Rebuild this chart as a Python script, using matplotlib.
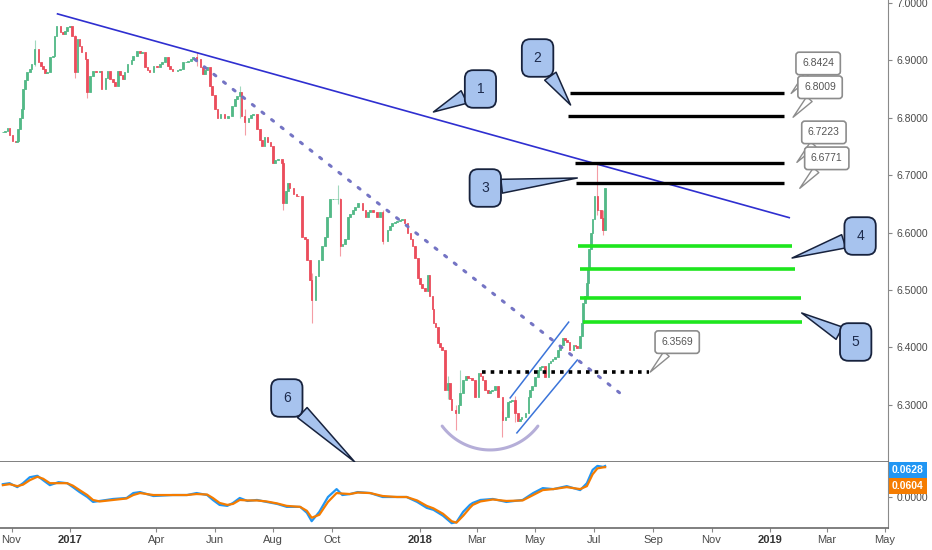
import matplotlib
matplotlib.use("Agg")
import matplotlib.pyplot as plt
import matplotlib.dates as mdates
import numpy as np
import pandas as pd

# daily-ish closes (USD/CNH)
dates = [
    "2016-10-23", "2016-10-25", "2016-10-28", "2016-10-30", "2016-11-02", "2016-11-05", "2016-11-07", "2016-11-08",
    "2016-11-10", "2016-11-12", "2016-11-13", "2016-11-15", "2016-11-17", "2016-11-20", "2016-11-22", "2016-11-25",
    "2016-11-29", "2016-12-02", "2016-12-04", "2016-12-06", "2016-12-08", "2016-12-11", "2016-12-14", "2016-12-16",
    "2016-12-18", "2016-12-22", "2016-12-25", "2016-12-27", "2016-12-29", "2017-01-01", "2017-01-03", "2017-01-06",
    "2017-01-09", "2017-01-11", "2017-01-13", "2017-01-17", "2017-01-19", "2017-01-22", "2017-01-25", "2017-01-28",
    "2017-02-01", "2017-02-03", "2017-02-07", "2017-02-09", "2017-02-12", "2017-02-15", "2017-02-17", "2017-02-20",
    "2017-02-22", "2017-02-25", "2017-02-27", "2017-03-02", "2017-03-06", "2017-03-08", "2017-03-12", "2017-03-15",
    "2017-03-17", "2017-03-20", "2017-03-23", "2017-03-25", "2017-03-29", "2017-04-02", "2017-04-05", "2017-04-07",
    "2017-04-10", "2017-04-13", "2017-04-15", "2017-04-18", "2017-04-23", "2017-04-26", "2017-04-29", "2017-05-02",
    "2017-05-04", "2017-05-07", "2017-05-09", "2017-05-13", "2017-05-17", "2017-05-20", "2017-05-22", "2017-05-24",
    "2017-05-27", "2017-05-29", "2017-06-01", "2017-06-04", "2017-06-07", "2017-06-11", "2017-06-15", "2017-06-19",
    "2017-06-22", "2017-06-24", "2017-06-27", "2017-06-29", "2017-07-02", "2017-07-06", "2017-07-09", "2017-07-11",
    "2017-07-15", "2017-07-18", "2017-07-20", "2017-07-23", "2017-07-26", "2017-07-29", "2017-08-01", "2017-08-03",
    "2017-08-06", "2017-08-10", "2017-08-11", "2017-08-14", "2017-08-16", "2017-08-18", "2017-08-22", "2017-08-25",
    "2017-08-27", "2017-08-31", "2017-09-03", "2017-09-05", "2017-09-08", "2017-09-10", "2017-09-14", "2017-09-17",
    "2017-09-21", "2017-09-24", "2017-09-26", "2017-09-29", "2017-10-02", "2017-10-05", "2017-10-07", "2017-10-10",
    "2017-10-12", "2017-10-15", "2017-10-18", "2017-10-20", "2017-10-23", "2017-10-25", "2017-10-28", "2017-11-02",
    "2017-11-05", "2017-11-08", "2017-11-10", "2017-11-13", "2017-11-17", "2017-11-20", "2017-11-23", "2017-11-28",
    "2017-12-01", "2017-12-03", "2017-12-06", "2017-12-08", "2017-12-11", "2017-12-13", "2017-12-16", "2017-12-19",
    "2017-12-22", "2017-12-24", "2017-12-27", "2017-12-30", "2018-01-01", "2018-01-03", "2018-01-06", "2018-01-09",
    "2018-01-11", "2018-01-14", "2018-01-15", "2018-01-17", "2018-01-20", "2018-01-22", "2018-01-24", "2018-01-27",
    "2018-01-30", "2018-02-01", "2018-02-03", "2018-02-07", "2018-02-10", "2018-02-12", "2018-02-15", "2018-02-18",
    "2018-02-20", "2018-02-22", "2018-02-24", "2018-02-27", "2018-03-03", "2018-03-05", "2018-03-07", "2018-03-10",
    "2018-03-13", "2018-03-15", "2018-03-17", "2018-03-20", "2018-03-23", "2018-03-28", "2018-03-31", "2018-04-03",
    "2018-04-05", "2018-04-07", "2018-04-10", "2018-04-13", "2018-04-15", "2018-04-17", "2018-04-21", "2018-04-24",
    "2018-04-26", "2018-04-28", "2018-05-01", "2018-05-04", "2018-05-06", "2018-05-08", "2018-05-11", "2018-05-15",
    "2018-05-17", "2018-05-19", "2018-05-22", "2018-05-25", "2018-05-27", "2018-05-30", "2018-06-01", "2018-06-03",
    "2018-06-06", "2018-06-10", "2018-06-12", "2018-06-14", "2018-06-17", "2018-06-19", "2018-06-20", "2018-06-22",
    "2018-06-24", "2018-06-25", "2018-06-26", "2018-06-28", "2018-06-30", "2018-07-02", "2018-07-05", "2018-07-07",
    "2018-07-09", "2018-07-11", "2018-07-13",
]
closes = [
    6.775, 6.777, 6.783, 6.770, 6.760, 6.758, 6.760, 6.780,
    6.800, 6.815, 6.850, 6.865, 6.880, 6.885, 6.893, 6.920,
    6.897, 6.890, 6.885, 6.878, 6.880, 6.906, 6.908, 6.943,
    6.960, 6.949, 6.946, 6.952, 6.958, 6.960, 6.943, 6.880,
    6.937, 6.925, 6.914, 6.902, 6.845, 6.873, 6.881, 6.880,
    6.881, 6.850, 6.870, 6.881, 6.867, 6.862, 6.855, 6.881,
    6.875, 6.867, 6.880, 6.893, 6.900, 6.908, 6.916, 6.912,
    6.914, 6.888, 6.884, 6.880, 6.890, 6.888, 6.893, 6.897,
    6.906, 6.890, 6.885, 6.881, 6.884, 6.885, 6.897, 6.898,
    6.899, 6.903, 6.906, 6.902, 6.888, 6.876, 6.883, 6.888,
    6.855, 6.840, 6.815, 6.800, 6.806, 6.800, 6.803, 6.820,
    6.832, 6.838, 6.845, 6.803, 6.792, 6.800, 6.805, 6.806,
    6.780, 6.762, 6.750, 6.766, 6.758, 6.750, 6.722, 6.726,
    6.728, 6.722, 6.652, 6.672, 6.687, 6.678, 6.667, 6.664,
    6.663, 6.593, 6.588, 6.553, 6.518, 6.483, 6.524, 6.553,
    6.576, 6.593, 6.628, 6.658, 6.658, 6.658, 6.658, 6.576,
    6.580, 6.588, 6.628, 6.632, 6.640, 6.645, 6.652, 6.640,
    6.628, 6.636, 6.640, 6.635, 6.628, 6.635, 6.585, 6.605,
    6.612, 6.617, 6.619, 6.620, 6.622, 6.623, 6.617, 6.600,
    6.588, 6.576, 6.555, 6.520, 6.510, 6.503, 6.498, 6.526,
    6.489, 6.466, 6.443, 6.436, 6.408, 6.400, 6.396, 6.326,
    6.338, 6.310, 6.291, 6.286, 6.300, 6.321, 6.344, 6.350,
    6.347, 6.346, 6.344, 6.314, 6.356, 6.350, 6.344, 6.326,
    6.321, 6.324, 6.326, 6.332, 6.314, 6.274, 6.279, 6.304,
    6.306, 6.309, 6.286, 6.271, 6.275, 6.279, 6.286, 6.314,
    6.325, 6.332, 6.349, 6.361, 6.365, 6.367, 6.349, 6.373,
    6.376, 6.379, 6.384, 6.396, 6.405, 6.417, 6.413, 6.410,
    6.396, 6.405, 6.402, 6.399, 6.419, 6.443, 6.478, 6.489,
    6.513, 6.536, 6.571, 6.600, 6.623, 6.663, 6.640, 6.640,
    6.625, 6.605, 6.678,
]

# candles with a visible shadow
wick_dates = ["2016-11-25", "2017-01-06", "2017-01-19", "2017-05-13", "2017-06-27", "2017-07-02", "2017-08-11",
              "2017-09-10", "2017-10-07", "2017-10-10", "2017-11-23", "2018-01-30", "2018-02-07", "2018-02-12",
              "2018-03-28", "2018-04-10", "2018-07-05", "2018-07-11"]
wick_highs = [6.935, 6.945, 6.880, 6.915, 6.855, 6.815, 6.725, 6.530, 6.683, 6.660, 6.640, 6.350, 6.300, 6.360,
              6.290, 6.315, 6.7223, 6.640]
wick_lows = [6.890, 6.870, 6.835, 6.890, 6.800, 6.770, 6.640, 6.443, 6.650, 6.560, 6.580, 6.310, 6.256, 6.300,
             6.244, 6.270, 6.630, 6.595]

# lower pane oscillator (blue fast / orange slow)
ind_dates = [
    "2016-10-23", "2016-10-30", "2016-11-07", "2016-11-13", "2016-11-20", "2016-11-28", "2016-12-04", "2016-12-11",
    "2016-12-20", "2016-12-29", "2017-01-04", "2017-01-11", "2017-01-19", "2017-01-25", "2017-02-01", "2017-02-15",
    "2017-03-01", "2017-03-08", "2017-03-15", "2017-03-29", "2017-04-18", "2017-05-03", "2017-05-13", "2017-05-24",
    "2017-05-30", "2017-06-06", "2017-06-14", "2017-06-20", "2017-06-27", "2017-07-05", "2017-07-15", "2017-07-25",
    "2017-08-05", "2017-08-15", "2017-08-29", "2017-09-05", "2017-09-10", "2017-09-18", "2017-09-27", "2017-10-06",
    "2017-10-12", "2017-10-20", "2017-10-28", "2017-11-10", "2017-11-23", "2017-12-08", "2017-12-18", "2017-12-29",
    "2018-01-08", "2018-01-15", "2018-01-25", "2018-02-03", "2018-02-08", "2018-02-15", "2018-02-22", "2018-02-25",
    "2018-03-05", "2018-03-18", "2018-04-01", "2018-04-18", "2018-04-29", "2018-05-09", "2018-05-20", "2018-06-03",
    "2018-06-17", "2018-06-24", "2018-06-30", "2018-07-05", "2018-07-11", "2018-07-13",
]
ind_fast = [
    0.026, 0.028, 0.020, 0.028, 0.040, 0.043, 0.034, 0.024, 0.030, 0.028,
    0.020, 0.010, 0.000, -0.010, -0.008, -0.004, -0.002, 0.008, 0.010, 0.002,
    0.004, 0.004, 0.008, 0.004, -0.006, -0.016, -0.018, -0.012, -0.002, -0.008,
    -0.006, -0.010, -0.014, -0.020, -0.020, -0.032, -0.049, -0.030, 0.000, 0.016,
    0.004, 0.006, 0.010, 0.008, 0.000, 0.000, 0.000, -0.010, -0.022, -0.026,
    -0.038, -0.053, -0.051, -0.030, -0.016, -0.012, -0.006, -0.004, -0.010, -0.006,
    0.008, 0.018, 0.016, 0.022, 0.014, 0.028, 0.055, 0.063, 0.061, 0.0628,
]
ind_slow = [
    0.024, 0.026, 0.022, 0.025, 0.034, 0.041, 0.037, 0.028, 0.028, 0.028,
    0.023, 0.014, 0.004, -0.006, -0.009, -0.006, -0.003, 0.004, 0.008, 0.004,
    0.004, 0.004, 0.006, 0.005, -0.002, -0.012, -0.016, -0.014, -0.006, -0.007,
    -0.007, -0.009, -0.013, -0.018, -0.020, -0.028, -0.042, -0.036, -0.010, 0.008,
    0.007, 0.006, 0.009, 0.008, 0.002, 0.000, 0.000, -0.007, -0.018, -0.023,
    -0.034, -0.049, -0.052, -0.038, -0.022, -0.016, -0.009, -0.005, -0.008, -0.007,
    0.004, 0.014, 0.016, 0.020, 0.016, 0.022, 0.046, 0.058, 0.060, 0.0604,
]

# drawings
trend_dates = ["2016-12-19", "2019-01-21"]
trend_prices = [6.981, 6.626]
dotted_dates = ["2017-05-11", "2018-07-28"]
dotted_prices = [6.902, 6.321]
chan_up_dates = ["2018-04-05", "2018-06-05"]
chan_up_prices = [6.312, 6.444]
chan_lo_dates = ["2018-04-12", "2018-06-14"]
chan_lo_prices = [6.251, 6.378]
bowl_center = ("2018-03-15", 6.3258)   # rounding-bottom arc
bowl_half_width_days = 62.5
bowl_half_height = 0.1045

resist_prices = [6.8432, 6.8030, 6.7213, 6.6864]
resist_starts = ["2018-06-06", "2018-06-04", "2018-06-12", "2018-06-13"]
resist_end = "2019-01-16"
support_prices = [6.5767, 6.5366, 6.4861, 6.4443]
support_starts = ["2018-06-15", "2018-06-17", "2018-06-17", "2018-06-20"]
support_ends = ["2019-01-24", "2019-01-27", "2019-02-02", "2019-02-03"]
neck_price = 6.3569
neck_dates = ["2018-03-07", "2018-08-28"]

label_texts = ["6.8424", "6.8009", "6.7223", "6.6771", "6.3569"]
label_dates = ["2019-01-23", "2019-01-25", "2019-01-29", "2019-02-01", "2018-08-29"]

note_texts = ["1", "2", "3", "4", "5", "6"]
note_dates = ["2018-01-15", "2018-06-07", "2018-06-14", "2019-01-24", "2019-02-03", "2017-10-25"]
note_prices = [6.8101, 6.8223, 6.6951, 6.5557, 6.4599, 6.2003]
note_offsets = [(47, 23), (-33, 47), (-92, -10), (68, 22), (54, -29), (-68, 64)]

tick_dates = ["2016-11-01", "2017-01-01", "2017-04-01", "2017-06-01", "2017-08-01", "2017-10-01", "2018-01-01",
              "2018-03-01", "2018-05-01", "2018-07-01", "2018-09-01", "2018-11-01", "2019-01-01", "2019-03-01",
              "2019-05-01"]
tick_labels = ["Nov", "2017", "Apr", "Jun", "Aug", "Oct", "2018", "Mar", "May", "Jul", "Sep", "Nov", "2019", "Mar", "May"]

UP, DOWN = "#53b987", "#eb4d5c"
TXT = "#4a4a4a"


def dn(values):
    return mdates.date2num(pd.to_datetime(values))


plt.rcParams["font.family"] = ["Liberation Sans", "DejaVu Sans"]
fig = plt.figure(figsize=(9.32, 5.5), dpi=100)
ax = fig.add_axes([0, 88 / 550, 888 / 932, 462 / 550])
ax2 = fig.add_axes([0, 22 / 550, 888 / 932, 66 / 550], sharex=ax)

# candles
x = dn(dates)
c = np.array(closes)
o = np.concatenate([[c[0]], c[:-1]])
colors = np.where(c >= o, UP, DOWN)
ax.bar(x, np.abs(c - o), bottom=np.minimum(o, c), width=1.7, color=colors, edgecolor=colors,
       linewidth=0.6, zorder=3)
wx = dn(wick_dates)
for d, hi, lo in zip(wx, wick_highs, wick_lows):
    i = int(np.argmin(np.abs(x - d)))
    ax.vlines(d, lo, hi, color=colors[i], lw=0.8, alpha=0.55, zorder=2)

# trendlines / channel / arc
ax.plot(dn(trend_dates), trend_prices, color="#2f2fd0", lw=1.2, zorder=4)
ax.plot(dn(dotted_dates), dotted_prices, color="#7474c4", lw=2.2, ls=(0, (0.8, 3.2)),
        dash_capstyle="round", zorder=4)
ax.plot(dn(chan_up_dates), chan_up_prices, color="#3b74d9", lw=1.1, zorder=4)
ax.plot(dn(chan_lo_dates), chan_lo_prices, color="#3b74d9", lw=1.1, zorder=4)
theta = np.radians(np.linspace(217, 323, 60))
cx = dn([bowl_center[0]])[0]
ax.plot(cx + bowl_half_width_days * np.cos(theta), bowl_center[1] + bowl_half_height * np.sin(theta),
        color="#b5aed8", lw=2.2, solid_capstyle="round", zorder=4)

for p, s in zip(resist_prices, resist_starts):
    ax.plot(dn([s, resist_end]), [p, p], color="black", lw=2.4, solid_capstyle="butt", zorder=5)
for p, s, e in zip(support_prices, support_starts, support_ends):
    ax.plot(dn([s, e]), [p, p], color="#1ee61e", lw=2.6, solid_capstyle="butt", zorder=5)
ax.plot(dn(neck_dates), [neck_price, neck_price], color="black", lw=2.6, ls=(0, (1, 1.4)), zorder=5)

# price callouts
for t, d in zip(label_texts, label_dates):
    ax.annotate(t, xy=(dn([d])[0], float(t)), xytext=(27, 30), textcoords="offset pixels",
                ha="center", va="center", fontsize=7.5, color="#555555", zorder=6, annotation_clip=False,
                bbox=dict(boxstyle="round,pad=0.6,rounding_size=0.3", fc="white", ec="#8c8c8c", lw=1.2),
                arrowprops=dict(arrowstyle="wedge,tail_width=0.7,shrink_factor=0.5", fc="white",
                                ec="#8c8c8c", lw=1.0, shrinkA=0, shrinkB=0))

# numbered notes
for t, d, p, off in zip(note_texts, note_dates, note_prices, note_offsets):
    ax.annotate(t, xy=(dn([d])[0], p), xytext=off, textcoords="offset pixels",
                ha="center", va="center", fontsize=10, color="#1d2b4c", zorder=7, annotation_clip=False,
                bbox=dict(boxstyle="round,pad=0.85,rounding_size=0.6", fc="#a7c3ee", ec="#17223d", lw=1.3),
                arrowprops=dict(arrowstyle="wedge,tail_width=1.0,shrink_factor=0.5", fc="#a7c3ee",
                                ec="#17223d", lw=1.1, shrinkA=0, shrinkB=0))

# main axis styling
ax.set_ylim(6.2003, 7.0052)
ax.set_xlim(dn(["2016-10-20"])[0], dn(["2019-05-04"])[0])
ax.yaxis.tick_right()
ax.set_yticks(np.arange(6.3, 7.001, 0.1))
ax.yaxis.set_major_formatter(matplotlib.ticker.FormatStrFormatter("%.4f"))
ax.tick_params(axis="y", labelsize=7.5, labelcolor=TXT, color="#888888", length=3, pad=3)
ax.tick_params(axis="x", bottom=False, labelbottom=False)
for side in ["left", "top"]:
    ax.spines[side].set_visible(False)
ax.spines["right"].set_color("#8a8a8a")
ax.spines["bottom"].set_color("#6a6a6a")
ax.spines["bottom"].set_linewidth(1.2)

# indicator pane
idx = dn(ind_dates)
ax2.plot(idx, ind_fast, color="#2196f3", lw=1.6, zorder=3)
ax2.plot(idx, ind_slow, color="#f57c00", lw=1.6, zorder=4)
ax2.set_ylim(-0.0628, 0.0709)
ax2.yaxis.tick_right()
ax2.set_yticks([0.0])
ax2.yaxis.set_major_formatter(matplotlib.ticker.FormatStrFormatter("%.4f"))
ax2.tick_params(axis="y", labelsize=7.5, labelcolor=TXT, color="#888888", length=3, pad=3)
ax2.spines["left"].set_visible(False)
ax2.spines["top"].set_visible(False)
ax2.spines["right"].set_color("#8a8a8a")
ax2.spines["bottom"].set_color("#6a6a6a")
ax2.spines["bottom"].set_linewidth(1.2)
for val, col, dy in [(ind_slow[-1], "#f57c00", -19), (ind_fast[-1], "#2196f3", -4)]:
    ax2.annotate(f"{val:.4f}", xy=(1, val), xycoords=("axes fraction", "data"), xytext=(4, dy),
                 textcoords="offset pixels", ha="left", va="center", fontsize=7.5, color="white",
                 fontweight="bold", annotation_clip=False, zorder=10,
                 bbox=dict(boxstyle="square,pad=0.3", fc=col, ec="none"))

ax2.set_xticks(dn(tick_dates))
ax2.set_xticklabels(tick_labels)
ax2.tick_params(axis="x", labelsize=8, labelcolor=TXT, color="#888888", length=3, pad=2)
for lab in ax2.get_xticklabels():
    if lab.get_text().isdigit():
        lab.set_fontweight("bold")
        lab.set_color("#333333")

fig.savefig("out.png", dpi=100)
